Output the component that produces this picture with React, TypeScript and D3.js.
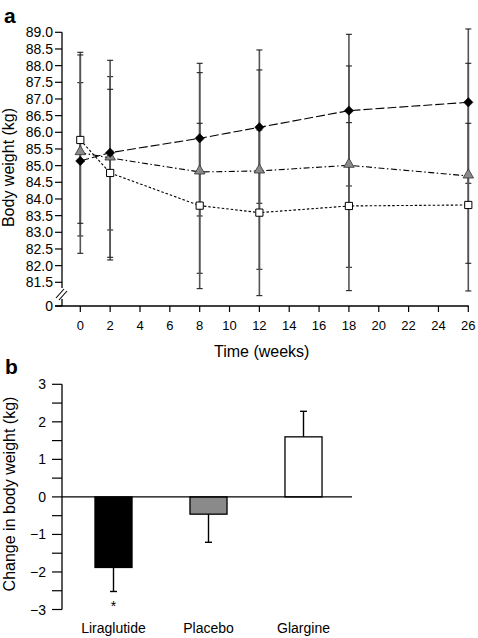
import React from "react";
import * as d3 from "d3";

// ---------- Panel a data ----------
const weeks = [0, 2, 8, 12, 18, 26];
const xTickValues = [0, 2, 4, 6, 8, 10, 12, 14, 16, 18, 20, 22, 24, 26];
const yTickValues = [81.5, 82, 82.5, 83, 83.5, 84, 84.5, 85, 85.5, 86, 86.5, 87, 87.5, 88, 88.5, 89];

const liraMean = [85.14, 85.39, 85.82, 86.15, 86.65, 86.9];
const liraHi = [87.49, 87.67, 88.07, 88.47, 88.94, 89.1];
const liraLo = [82.89, 83.07, 83.49, 83.87, 84.39, 84.47];

const placeboMean = [85.39, 85.23, 84.81, 84.84, 85.01, 84.69];
const placeboHi = [88.4, 88.16, 87.79, 87.87, 87.99, 88.07];
const placeboLo = [82.37, 82.17, 81.77, 81.89, 81.95, 81.24];

const glargineMean = [85.77, 84.78, 83.8, 83.59, 83.79, 83.82];
const glargineHi = [88.32, 87.29, 86.27, 86.07, 86.29, 86.27];
const glargineLo = [83.27, 82.25, 81.31, 81.1, 81.25, 82.07];

// ---------- Panel b data ----------
const groups = ["Liraglutide", "Placebo", "Glargine"];
const changeMean = [-1.88, -0.46, 1.6];
const changeErr = [0.64, 0.75, 0.68];
const bTickValues = [-3, -2.5, -2, -1.5, -1, -0.5, 0, 0.5, 1, 1.5, 2, 2.5, 3];
const bTickLabels = [-3, -2, -1, 0, 1, 2, 3];

const FONT = "'Liberation Sans', Arial, Helvetica, sans-serif";

export default function App() {
  // Panel a scales
  const x = d3.scaleLinear().domain([0, 26]).range([80.3, 468.3]);
  const y = d3.scaleLinear().domain([81.5, 89]).range([282.3, 32.3]);
  const xAxisY = 306;
  const yAxisX = 62;

  const seriesA = [
    { mean: liraMean, hi: liraHi, lo: liraLo, dash: "9,3" },
    { mean: placeboMean, hi: placeboHi, lo: placeboLo, dash: "6,2.5,1.5,2.5" },
    { mean: glargineMean, hi: glargineHi, lo: glargineLo, dash: "2.5,2" },
  ];

  const line = d3
    .line<number>()
    .x((_, i) => x(weeks[i]))
    .y((d) => y(d));

  const diamondPath = d3.symbol().type(d3.symbolSquare).size(44)() as string;
  const triPath = d3.symbol().type(d3.symbolTriangle).size(48)() as string;
  const sqPath = d3.symbol().type(d3.symbolSquare).size(52)() as string;

  // Panel b scales
  const xb = d3.scaleBand<string>().domain(groups).range([66, 351]).paddingInner(0.61).paddingOuter(0.305);
  const yb = d3.scaleLinear().domain([-3, 3]).range([609.5, 384.3]);
  const barFills = ["#000000", "#8a8a8a", "#ffffff"];

  return (
    <svg
      width={478}
      height={638}
      style={{ position: "absolute", left: 0, top: 0, background: "#fff" }}
      fontFamily={FONT}
    >
      <rect x={0} y={0} width={478} height={638} fill="#fff" />
      {/* ---------------- Panel a ---------------- */}
      <text x={4} y={23} fontSize={21} fontWeight="bold">a</text>

      {/* y axis */}
      <line x1={yAxisX} x2={yAxisX} y1={y(89)} y2={288} stroke="#000" strokeWidth={1.3} />
      <line x1={yAxisX} x2={yAxisX} y1={299} y2={xAxisY} stroke="#000" strokeWidth={1.3} />
      <line x1={56} y1={298} x2={64} y2={289} stroke="#000" strokeWidth={1.1} />
      <line x1={59} y1={300} x2={67} y2={291} stroke="#000" strokeWidth={1.1} />
      {yTickValues.map((v) => (
        <g key={"yt" + v}>
          <line x1={55} x2={yAxisX} y1={y(v)} y2={y(v)} stroke="#000" strokeWidth={1.2} />
          <text x={53} y={y(v)} dy="0.36em" fontSize={14} textAnchor="end">
            {v.toFixed(1)}
          </text>
        </g>
      ))}
      <line x1={55} x2={yAxisX} y1={xAxisY} y2={xAxisY} stroke="#000" strokeWidth={1.2} />
      <text x={53} y={xAxisY} dy="0.36em" fontSize={14} textAnchor="end">0</text>

      {/* x axis */}
      <line x1={55} x2={x(26) + 0.5} y1={xAxisY} y2={xAxisY} stroke="#000" strokeWidth={1.3} />
      {xTickValues.map((v) => (
        <g key={"xt" + v}>
          <line x1={x(v)} x2={x(v)} y1={xAxisY} y2={xAxisY + 6} stroke="#000" strokeWidth={1.2} />
          <text x={x(v)} y={330} fontSize={13} textAnchor="middle">{v}</text>
        </g>
      ))}
      <text x={261.7} y={356.5} fontSize={16} textAnchor="middle">Time (weeks)</text>
      <text transform="translate(14,167.5) rotate(-90)" fontSize={16} textAnchor="middle">
        Body weight (kg)
      </text>

      {/* error bars */}
      {seriesA.map((s, si) =>
        weeks.map((w, i) => (
          <g key={"eb" + si + "-" + i}>
            <line x1={x(w)} x2={x(w)} y1={y(s.hi[i])} y2={y(s.lo[i])} stroke="#555" strokeWidth={1.6} />
            <line x1={x(w) - 3} x2={x(w) + 3} y1={y(s.hi[i])} y2={y(s.hi[i])} stroke="#222" strokeWidth={1.1} />
            <line x1={x(w) - 3} x2={x(w) + 3} y1={y(s.lo[i])} y2={y(s.lo[i])} stroke="#222" strokeWidth={1.1} />
          </g>
        ))
      )}

      {/* lines */}
      {seriesA.map((s, si) => (
        <path key={"ln" + si} d={line(s.mean) as string} fill="none" stroke="#000" strokeWidth={1.1} strokeDasharray={s.dash} />
      ))}

      {/* markers */}
      {weeks.map((w, i) => (
        <g key={"mk" + i}>
          <path d={sqPath} transform={`translate(${x(w)},${y(glargineMean[i])})`} fill="#fff" stroke="#000" strokeWidth={1} />
          <path d={triPath} transform={`translate(${x(w)},${y(placeboMean[i]) - 1})`} fill="#8a8a8a" stroke="#333" strokeWidth={0.8} />
          <path d={diamondPath} transform={`translate(${x(w)},${y(liraMean[i])}) rotate(45)`} fill="#000" stroke="#000" strokeWidth={0.5} />
        </g>
      ))}

      {/* ---------------- Panel b ---------------- */}
      <text x={5} y={374} fontSize={21} fontWeight="bold">b</text>
      <line x1={62} x2={62} y1={yb(3)} y2={yb(-3)} stroke="#000" strokeWidth={1.3} />
      {bTickValues.map((v) => (
        <line key={"bt" + v} x1={52} x2={62} y1={yb(v)} y2={yb(v)} stroke="#000" strokeWidth={1.2} />
      ))}
      {bTickLabels.map((v) => (
        <text key={"bl" + v} x={46} y={yb(v)} dy="0.36em" fontSize={14} textAnchor="end">
          {v < 0 ? "\u2212" + Math.abs(v) : String(v)}
        </text>
      ))}
      <text transform="translate(15,494) rotate(-90)" fontSize={16} textAnchor="middle">
        Change in body weight (kg)
      </text>

      {groups.map((g, i) => {
        const v = changeMean[i];
        const cx = (xb(g) as number) + xb.bandwidth() / 2;
        const tip = v < 0 ? v - changeErr[i] : v + changeErr[i];
        return (
          <g key={"bar" + g}>
            <line x1={cx} x2={cx} y1={yb(v)} y2={yb(tip)} stroke="#000" strokeWidth={1.4} />
            <line x1={cx - 3.5} x2={cx + 3.5} y1={yb(tip)} y2={yb(tip)} stroke="#000" strokeWidth={1.4} />
            <rect
              x={xb(g) as number}
              width={xb.bandwidth()}
              y={Math.min(yb(v), yb(0))}
              height={Math.abs(yb(v) - yb(0))}
              fill={barFills[i]}
              stroke="#000"
              strokeWidth={1.3}
            />
            <text x={cx} y={633} fontSize={14} textAnchor="middle">{g}</text>
          </g>
        );
      })}
      <line x1={62} x2={352} y1={yb(0)} y2={yb(0)} stroke="#000" strokeWidth={1.4} />
      <text
        x={(xb(groups[0]) as number) + xb.bandwidth() / 2}
        y={yb(changeMean[0] - changeErr[0]) + 20}
        fontSize={14}
        textAnchor="middle"
      >
        *
      </text>
    </svg>
  );
}
